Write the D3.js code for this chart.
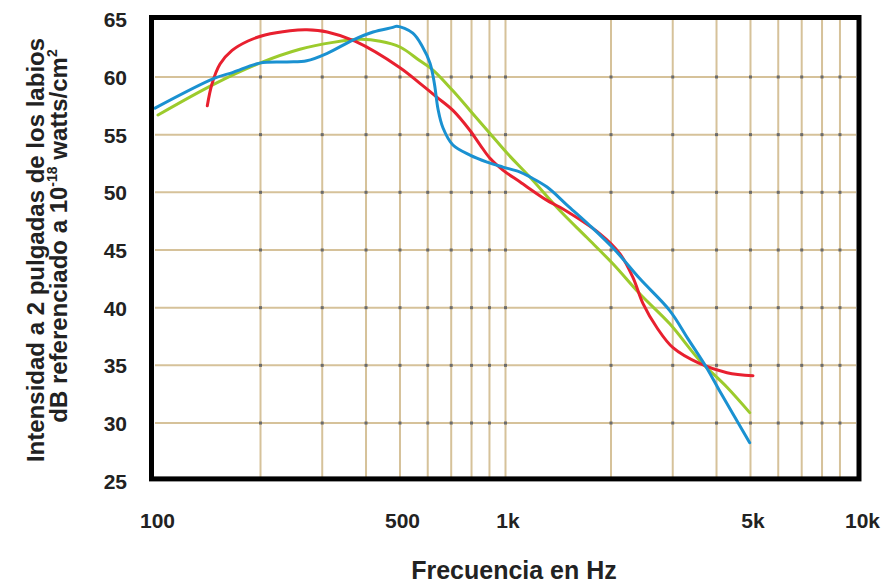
<!DOCTYPE html>
<html><head><meta charset="utf-8">
<script src="https://cdn.jsdelivr.net/npm/d3@7"></script>
<style>body{margin:0;background:#fff}svg{display:block}</style>
</head><body>
<svg id="c" width="886" height="583"></svg>
<script>
// ---- data ----
const xTickValues = [100, 500, 1000, 5000, 10000];
const xTickLabels = ["100", "500", "1k", "5k", "10k"];
const yTickValues = [25, 30, 35, 40, 45, 50, 55, 60, 65];
const xGridValues = [200,300,400,500,600,700,800,900,1000,2000,3000,4000,5000,6000,7000,8000,9000];
const yGridValues = [30, 35, 40, 45, 50, 55, 60];

const redFreq = [141,145.4,153.3,165.9,184.2,206,242.7,271.4,310,372,500,570,638,708,792,847,902,983,1101,1314,1431,1860,2122,2311,2468,2705,3005,3588,4285,5083];
const redDb   = [57.5,59.39,61.12,62.3,63.12,63.64,64.01,64.09,63.9,63.1,60.8,59.44,58.23,57.1,55.36,54.1,52.97,51.93,50.89,49.3,48.7,46.4,44.66,42.6,40.35,38.26,36.53,35.14,34.36,34.1];

const blueFreq = [100,148,167,199,238,271,310,367,419,477,490,544,580,609,627,642,663,708,792,886,983,1101,1175,1314,1498,1743,2052,2415,2942,3317,3748,4080,4974];
const blueDb   = [57.3,59.9,60.4,61.2,61.3,61.4,62.05,63.2,63.9,64.3,64.4,63.8,62.6,61.2,59.4,57.2,55.6,54.1,53.23,52.62,52.19,51.76,51.33,50.46,48.9,47.1,45.0,42.52,39.75,37.3,34.8,32.8,28.3];

const greenFreq = [102,148,199,259,322,385,439,500,570,621,708,792,903,1010,1175,1431,1704,2025,2415,2942,3588,4285,4974];
const greenDb   = [56.7,59.4,61.2,62.4,63.0,63.26,63.1,62.6,61.4,60.6,58.8,57.1,55.1,53.4,51.3,48.4,46.1,43.8,41.2,38.6,35.4,33.1,30.9];

const xTitle = "Frecuencia en Hz";
const yTitle1 = "Intensidad a 2 pulgadas de los labios";

// ---- drawing ----
const svg = d3.select("#c");
const x = d3.scaleLog().domain([100, 10000]).range([155, 856]);
const y = d3.scaleLinear().domain([25, 65]).range([480.7, 19.3]);

const gridColor = "#d6c29a";
const g = svg.append("g");
g.selectAll(".vg").data(xGridValues).join("line")
  .attr("x1", d => x(d)).attr("x2", d => x(d))
  .attr("y1", y(65)).attr("y2", y(25))
  .attr("stroke", gridColor).attr("stroke-width", 2);
g.selectAll(".hg").data(yGridValues).join("line")
  .attr("x1", x(100)).attr("x2", x(10000))
  .attr("y1", d => y(d)).attr("y2", d => y(d))
  .attr("stroke", gridColor).attr("stroke-width", 2);
const pts = [];
xGridValues.forEach(a => yGridValues.forEach(b => pts.push([a, b])));
g.selectAll(".dot").data(pts).join("rect")
  .attr("x", d => x(d[0]) - 1.5).attr("y", d => y(d[1]) - 1.5)
  .attr("width", 3).attr("height", 3).attr("fill", "#6b6b6b");

function series(fx, dy, color) {
  const data = fx.map((f, i) => [f, dy[i]]);
  const line = d3.line().x(d => x(d[0])).y(d => y(d[1])).curve(d3.curveCatmullRom.alpha(0.5));
  svg.append("path").datum(data).attr("d", line)
    .attr("fill", "none").attr("stroke", color).attr("stroke-width", 3)
    .attr("stroke-linecap", "round").attr("stroke-linejoin", "round");
}
series(greenFreq, greenDb, "#9ccb2c");
series(redFreq, redDb, "#e8202f");
series(blueFreq, blueDb, "#1a91d1");

// frame
svg.append("rect")
  .attr("x", x(100) - 3.5).attr("y", y(65) - 1.8)
  .attr("width", x(10000) - x(100) + 6.5).attr("height", y(25) - y(65))
  .attr("fill", "none").attr("stroke", "#000").attr("stroke-width", 5);

const font = "'Liberation Sans', Arial, sans-serif";
const yAxis = d3.axisLeft(y).tickValues(yTickValues).tickSize(0).tickPadding(0).tickFormat(d3.format("d"));
const ya = svg.append("g").attr("transform", "translate(127,0)").call(yAxis);
ya.select(".domain").remove();
ya.selectAll("text").attr("font-family", font).attr("font-size", 21).attr("font-weight", "bold").attr("fill", "#222").attr("dy", "0.36em").attr("x", 0);

const xAxis = d3.axisBottom(x).tickValues(xTickValues).tickSize(0).tickPadding(0)
  .tickFormat((d, i) => xTickLabels[i]);
const xa = svg.append("g").attr("transform", "translate(0,528)").call(xAxis);
xa.select(".domain").remove();
xa.selectAll("text").attr("font-family", font).attr("font-size", 21).attr("font-weight", "bold").attr("fill", "#222").attr("dy", 0).attr("y", 0)
  .attr("dx", (d, i) => i === xTickValues.length - 1 ? 6 : 2);

svg.append("text").attr("x", 514).attr("y", 579).attr("text-anchor", "middle")
  .attr("font-family", font).attr("font-size", 25).attr("font-weight", "bold").attr("fill", "#222")
  .text(xTitle);

svg.append("text").attr("transform", "translate(44,250) rotate(-90)").attr("text-anchor", "middle")
  .attr("font-family", font).attr("font-size", 24).attr("font-weight", "bold").attr("fill", "#222")
  .text(yTitle1);
const t2 = svg.append("text").attr("transform", "translate(67,236) rotate(-90)").attr("text-anchor", "middle")
  .attr("font-family", font).attr("font-size", 24).attr("font-weight", "bold").attr("fill", "#222");
t2.append("tspan").text("dB referenciado a 10");
t2.append("tspan").attr("font-size", 14).attr("dy", -10).text("-18");
t2.append("tspan").attr("dy", 10).text(" watts/cm");
t2.append("tspan").attr("font-size", 14).attr("dy", -10).text("2");
</script>
</body></html>
